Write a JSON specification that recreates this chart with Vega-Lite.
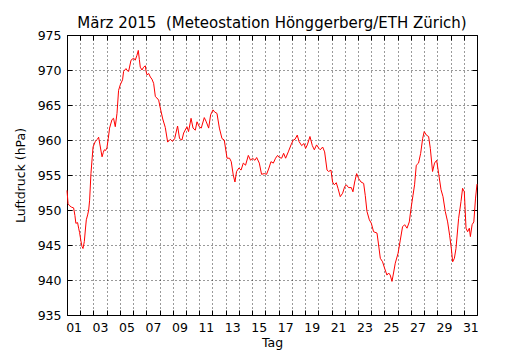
{
 "$schema": "https://vega.github.io/schema/vega-lite/v6.json",
 "width": 410, "height": 280,
 "autosize": {"type": "none"},
 "padding": {"left": 67, "top": 35, "right": 53, "bottom": 35},
 "config": {
   "font": "DejaVu Sans",
   "view": {"stroke": "#000", "strokeWidth": 1},
   "axis": {"labelFont": "DejaVu Sans", "titleFont": "DejaVu Sans", "labelColor": "#000", "titleColor": "#000", "labelFontSize": 12.5, "titleFontSize": 12.5, "titleFontWeight": "normal", "domain": false, "tickColor": "#000", "tickSize": -5, "tickWidth": 1, "gridColor": "#000", "gridDash": [1, 3], "gridWidth": 0.8, "gridOpacity": 1}
 },
 "title": {"text": "März 2015 \u00a0(Meteostation Hönggerberg/ETH Zürich)", "fontSize": 15, "fontWeight": "normal", "font": "DejaVu Sans", "color": "#000", "anchor": "middle", "offset": -14, "baseline": "alphabetic"},
 "data": {"values": [
  {"d":0.0,"p":952.8},{"d":0.08,"p":950.9},{"d":0.2,"p":950.6},{"d":0.35,"p":950.4},{"d":0.5,"p":950.3},{"d":0.6,"p":949.2},{"d":0.67,"p":948.1},{"d":0.8,"p":948.2},{"d":0.88,"p":947.4},{"d":0.95,"p":946.8},
  {"d":1.05,"p":945.6},{"d":1.13,"p":944.8},{"d":1.21,"p":944.5},{"d":1.31,"p":945.5},{"d":1.38,"p":947.0},{"d":1.46,"p":948.6},{"d":1.56,"p":949.3},{"d":1.64,"p":950.0},{"d":1.71,"p":951.4},{"d":1.81,"p":955.2},{"d":1.97,"p":959.0},
  {"d":2.14,"p":959.8},{"d":2.3,"p":960.1},{"d":2.39,"p":960.4},{"d":2.52,"p":959.0},{"d":2.65,"p":957.6},{"d":2.74,"p":958.2},{"d":2.82,"p":958.6},{"d":2.92,"p":958.5},{"d":3.02,"p":958.9},
  {"d":3.12,"p":960.2},{"d":3.22,"p":961.7},{"d":3.40,"p":962.9},{"d":3.52,"p":963.1},{"d":3.65,"p":961.9},{"d":3.78,"p":963.8},{"d":3.90,"p":967.1},{"d":4.03,"p":967.9},{"d":4.20,"p":968.6},{"d":4.28,"p":969.8},
  {"d":4.46,"p":970.2},{"d":4.56,"p":969.9},{"d":4.66,"p":969.8},{"d":4.84,"p":971.4},{"d":5.04,"p":971.7},{"d":5.16,"p":971.4},{"d":5.29,"p":972.1},{"d":5.39,"p":972.8},{"d":5.47,"p":971.5},{"d":5.54,"p":970.4},
  {"d":5.67,"p":970.0},{"d":5.79,"p":970.4},{"d":5.92,"p":970.6},{"d":5.98,"p":969.8},{"d":6.05,"p":969.3},{"d":6.18,"p":969.5},{"d":6.30,"p":969.0},{"d":6.42,"p":968.7},{"d":6.55,"p":968.1},{"d":6.68,"p":966.2},
  {"d":6.80,"p":966.0},{"d":6.93,"p":965.7},{"d":7.05,"p":964.6},{"d":7.24,"p":963.0},{"d":7.43,"p":961.8},{"d":7.61,"p":959.7},{"d":7.81,"p":960.1},{"d":7.98,"p":959.8},{"d":8.14,"p":960.2},{"d":8.36,"p":962.0},
  {"d":8.51,"p":960.2},{"d":8.69,"p":960.0},{"d":8.82,"p":961.0},{"d":9.07,"p":961.9},{"d":9.19,"p":961.2},{"d":9.38,"p":963.1},{"d":9.53,"p":961.7},{"d":9.70,"p":961.4},{"d":9.83,"p":962.6},{"d":10.0,"p":961.9},
  {"d":10.15,"p":961.7},{"d":10.38,"p":963.2},{"d":10.53,"p":962.6},{"d":10.71,"p":961.7},{"d":10.86,"p":963.6},{"d":11.04,"p":964.3},{"d":11.16,"p":964.0},{"d":11.34,"p":963.8},{"d":11.52,"p":961.7},{"d":11.72,"p":960.2},
  {"d":11.89,"p":960.0},{"d":12.10,"p":957.4},{"d":12.29,"p":957.4},{"d":12.42,"p":956.9},{"d":12.57,"p":955.0},{"d":12.70,"p":954.0},{"d":12.82,"p":955.5},{"d":13.0,"p":956.0},{"d":13.16,"p":955.7},{"d":13.33,"p":956.7},
  {"d":13.50,"p":956.4},{"d":13.71,"p":957.8},{"d":13.88,"p":957.1},{"d":14.03,"p":957.4},{"d":14.21,"p":957.1},{"d":14.34,"p":957.5},{"d":14.54,"p":956.7},{"d":14.71,"p":955.1},{"d":14.92,"p":955.2},{"d":15.09,"p":955.1},
  {"d":15.27,"p":956.0},{"d":15.42,"p":956.9},{"d":15.60,"p":956.7},{"d":15.77,"p":957.4},{"d":15.92,"p":957.8},{"d":16.05,"p":957.5},{"d":16.23,"p":957.4},{"d":16.38,"p":958.1},{"d":16.53,"p":957.4},{"d":16.73,"p":958.3},
  {"d":16.94,"p":959.3},{"d":17.11,"p":960.0},{"d":17.24,"p":960.1},{"d":17.41,"p":960.7},{"d":17.54,"p":959.8},{"d":17.74,"p":959.2},{"d":17.92,"p":959.5},{"d":18.04,"p":958.8},{"d":18.17,"p":959.3},{"d":18.37,"p":960.5},
  {"d":18.55,"p":959.2},{"d":18.70,"p":958.6},{"d":18.87,"p":959.3},{"d":19.05,"p":958.8},{"d":19.15,"p":958.6},{"d":19.33,"p":959.0},{"d":19.48,"p":958.3},{"d":19.66,"p":955.7},{"d":19.78,"p":955.5},{"d":19.96,"p":955.7},
  {"d":20.08,"p":954.0},{"d":20.21,"p":953.6},{"d":20.36,"p":953.9},{"d":20.49,"p":953.1},{"d":20.66,"p":951.9},{"d":20.84,"p":952.4},{"d":20.99,"p":953.3},{"d":21.12,"p":953.6},{"d":21.29,"p":953.2},{"d":21.50,"p":953.2},
  {"d":21.62,"p":952.6},{"d":21.75,"p":954.0},{"d":21.90,"p":955.2},{"d":22.05,"p":954.5},{"d":22.23,"p":954.0},{"d":22.43,"p":953.8},{"d":22.55,"p":952.1},{"d":22.68,"p":949.8},{"d":22.86,"p":948.6},{"d":23.01,"p":948.1},
  {"d":23.18,"p":946.9},{"d":23.44,"p":946.7},{"d":23.56,"p":945.0},{"d":23.69,"p":943.1},{"d":23.86,"p":942.6},{"d":24.01,"p":941.7},{"d":24.19,"p":940.7},{"d":24.32,"p":941.0},{"d":24.44,"p":940.7},{"d":24.57,"p":939.8},
  {"d":24.69,"p":941.0},{"d":24.82,"p":942.4},{"d":25.03,"p":943.8},{"d":25.20,"p":945.7},{"d":25.37,"p":947.6},{"d":25.53,"p":947.9},{"d":25.71,"p":947.4},{"d":25.88,"p":948.3},{"d":26.01,"p":950.2},{"d":26.16,"p":952.1},
  {"d":26.28,"p":953.6},{"d":26.41,"p":956.4},{"d":26.58,"p":956.7},{"d":26.74,"p":958.1},{"d":26.89,"p":960.2},{"d":27.01,"p":961.2},{"d":27.17,"p":960.7},{"d":27.34,"p":960.5},{"d":27.47,"p":958.8},{"d":27.64,"p":955.5},
  {"d":27.79,"p":956.7},{"d":27.95,"p":957.1},{"d":28.10,"p":955.2},{"d":28.28,"p":952.9},{"d":28.43,"p":951.9},{"d":28.60,"p":949.8},{"d":28.78,"p":948.3},{"d":28.93,"p":946.4},{"d":29.06,"p":944.5},{"d":29.16,"p":942.6},
  {"d":29.29,"p":943.1},{"d":29.41,"p":944.5},{"d":29.61,"p":948.8},{"d":29.79,"p":951.2},{"d":29.91,"p":953.1},{"d":30.04,"p":952.6},{"d":30.17,"p":947.4},{"d":30.29,"p":946.9},{"d":30.42,"p":947.4},{"d":30.50,"p":946.2},
  {"d":30.63,"p":947.9},{"d":30.76,"p":948.3},{"d":30.89,"p":951.7},{"d":31.0,"p":953.7}
 ]},
 "layer": [
  {"mark": {"type": "line", "color": "#ff0000", "strokeWidth": 1},
   "encoding": {
    "x": {"field": "d", "type": "quantitative", "scale": {"domain": [0, 31], "nice": false, "zero": false},
          "axis": {"values": [0,1,2,3,4,5,6,7,8,9,10,11,12,13,14,15,16,17,18,19,20,21,22,23,24,25,26,27,28,29,30,31],
                   "labelExpr": "(datum.value % 2 == 0 && datum.value < 31) ? ((datum.value + 1 < 10 ? '0' : '') + (datum.value + 1)) : ''",
                   "labelOffset": 6.6, "labelOverlap": false, "labelFlush": false, "labelPadding": 11, "labelBaseline": "top", "title": "Tag", "titlePadding": 3}},
    "y": {"field": "p", "type": "quantitative", "scale": {"domain": [935, 975], "nice": false, "zero": false},
          "axis": {"values": [935,940,945,950,955,960,965,970,975], "labelPadding": 11, "labelOverlap": false, "labelFlush": false, "title": "Luftdruck (hPa)", "titlePadding": 10}}
   }},
  {"mark": {"type": "line", "strokeOpacity": 0},
   "encoding": {
    "x": {"field": "d", "type": "quantitative",
          "axis": {"orient": "top", "values": [0,1,2,3,4,5,6,7,8,9,10,11,12,13,14,15,16,17,18,19,20,21,22,23,24,25,26,27,28,29,30,31], "labels": false, "grid": false, "title": null}},
    "y": {"field": "p", "type": "quantitative",
          "axis": {"orient": "right", "values": [935,940,945,950,955,960,965,970,975], "labels": false, "grid": false, "title": null}}
   }}
 ],
 "resolve": {"axis": {"x": "independent", "y": "independent"}}
}
